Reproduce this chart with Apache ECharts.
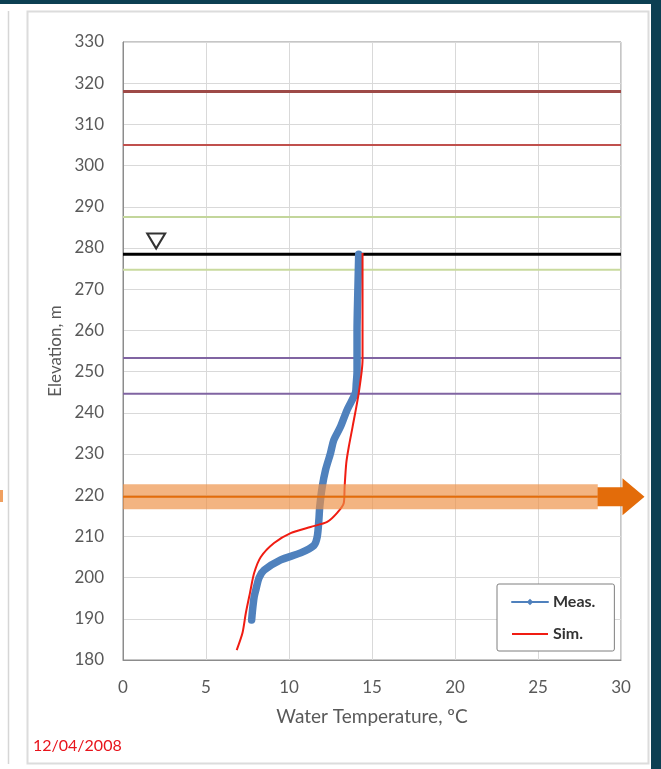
<!DOCTYPE html>
<html>
<head>
<meta charset="utf-8">
<script src="https://cdn.jsdelivr.net/npm/echarts@6/dist/echarts.min.js"></script>
<style>
html,body{margin:0;padding:0;background:#fff;}
#c{width:661px;height:769px;}
</style>
</head>
<body>
<div id="c"></div>
<script>
// ---- data ----
var xTicks = [0, 5, 10, 15, 20, 25, 30];
var yTicks = [180, 190, 200, 210, 220, 230, 240, 250, 260, 270, 280, 290, 300, 310, 320, 330];

var measTemp = [14.2, 14.15, 14.1, 14.1, 14.05, 14.0, 13.5, 13.1, 12.7, 12.5, 12.2, 12.0, 11.85, 11.8, 11.7, 11.5, 10.7, 9.5, 8.5, 8.2, 8.0, 7.9, 7.8, 7.75];
var measElev = [278.5, 270, 260, 250, 247, 244.8, 240.7, 236.6, 233.4, 230.2, 226.1, 222, 217.1, 214, 209.9, 207.8, 206, 204.3, 201.8, 200, 197, 195.3, 192, 189.7];

var simTemp = [14.43, 14.43, 14.43, 14.2, 13.83, 13.6, 13.45, 13.35, 13.3, 12.9, 12.3, 11.3, 10.1, 9.1, 8.3, 7.9, 7.65, 7.4, 7.2, 6.85];
var simElev = [278.8, 265, 252.8, 244.8, 236.6, 231.7, 227.8, 222, 218.1, 215.7, 213.5, 212.3, 210.8, 208.4, 205, 201.1, 196.3, 191.4, 186.6, 182.4];

var levelElev = [318, 305, 287.5, 278.5, 274.7, 253.3, 244.6];
var levelNames = ['L1', 'L2', 'L3', 'WSE', 'L4', 'L5', 'L6'];

var intakeElev = [219.6];
var intakeTemp = [0, 28.6, 30];

var surfaceMark = [2, 281.7];

var seriesNames = ['Meas.', 'Sim.'];
var dateText = '12/04/2008';

// ---- styles ----
var levelColors = ['#9e4a47', '#c0504d', '#c3d69b', '#000000', '#c9da9e', '#8064a2', '#8064a2'];
var levelWidths = [3, 2, 2, 3, 2, 2, 2];
var FONT = 'Lato';

function zip(a, b) { return a.map(function (v, i) { return [v, b[i]]; }); }

var series = [];
levelElev.forEach(function (e, i) {
  series.push({
    name: levelNames[i], type: 'line', silent: true, symbol: 'none', z: 2,
    data: [[xTicks[0], e], [xTicks[xTicks.length - 1], e]],
    lineStyle: { color: levelColors[i], width: levelWidths[i] }
  });
});
series.push({
  name: seriesNames[0], type: 'line', data: zip(measTemp, measElev),
  symbol: 'diamond', symbolSize: 7, showSymbol: false, smooth: 0.25, z: 3,
  itemStyle: { color: '#4f81bd' },
  lineStyle: { color: '#4f81bd', width: 7.5, cap: 'round', join: 'round' }
});
series.push({
  name: seriesNames[1], type: 'line', data: zip(simTemp, simElev),
  symbol: 'none', smooth: 0.25, z: 4,
  itemStyle: { color: '#ff1a10' },
  lineStyle: { color: '#f01c12', width: 2 }
});
series.push({
  name: 'band', type: 'line', silent: true, symbol: 'none', z: 5,
  data: [[intakeTemp[0], intakeElev[0]], [intakeTemp[1], intakeElev[0]]],
  lineStyle: { color: 'rgba(238,145,70,0.68)', width: 25, cap: 'butt' }
});
series.push({
  name: 'bandCenter', type: 'line', silent: true, symbol: 'none', z: 6,
  data: [[intakeTemp[0], intakeElev[0]], [intakeTemp[1], intakeElev[0]]],
  lineStyle: { color: '#e36c0a', width: 2 }
});
series.push({
  name: 'arrow', type: 'scatter', silent: true, clip: false, z: 7,
  data: [[intakeTemp[2], intakeElev[0]]],
  symbol: 'path://M0,9L25,9L25,0L47,18.5L25,37L25,28L0,28Z',
  symbolSize: [47, 37],
  itemStyle: { color: '#e36c0a', opacity: 1 }
});
series.push({
  name: 'surface', type: 'scatter', silent: true, clip: false, z: 7,
  data: [surfaceMark],
  symbol: 'triangle', symbolRotate: 180, symbolSize: [18, 15],
  itemStyle: { color: '#ffffff', borderColor: '#000000', borderWidth: 2 }
});

var chart = echarts.init(document.getElementById('c'), null, { renderer: 'canvas' });
chart.setOption({
  animation: false,
  backgroundColor: '#ffffff',
  textStyle: { fontFamily: FONT },
  grid: { left: 123, right: 40, top: 42, bottom: 109, show: true, borderColor: '#8c8c8c', borderWidth: 1 },
  xAxis: {
    type: 'value', min: xTicks[0], max: xTicks[xTicks.length - 1], interval: 5,
    name: 'Water Temperature, \u00baC', nameLocation: 'middle', nameGap: 47,
    nameTextStyle: { fontFamily: FONT, fontSize: 19, color: '#595959' },
    axisLine: { show: true, lineStyle: { color: '#8c8c8c' } },
    axisTick: { show: false },
    axisLabel: { margin: 19, fontFamily: FONT, fontSize: 17, color: '#595959' },
    splitLine: { show: true, lineStyle: { color: '#d9d9d9', width: 1 } }
  },
  yAxis: {
    type: 'value', min: yTicks[0], max: yTicks[yTicks.length - 1], interval: 10,
    name: 'Elevation, m', nameLocation: 'middle', nameGap: 56, nameRotate: 90,
    nameTextStyle: { fontFamily: FONT, fontSize: 17, color: '#595959' },
    axisLine: { show: true, lineStyle: { color: '#8c8c8c' } },
    axisTick: { show: false },
    axisLabel: { margin: 19, fontFamily: FONT, fontSize: 17, color: '#595959' },
    splitLine: { show: true, lineStyle: { color: '#d9d9d9', width: 1 } }
  },
  legend: {
    orient: 'vertical', left: 497, top: 584,
    data: [
      { name: seriesNames[0], lineStyle: { width: 2 }, itemStyle: { color: '#4f81bd' } },
      { name: seriesNames[1], lineStyle: { width: 2, color: '#f01c12' }, itemStyle: { opacity: 0, color: 'rgba(0,0,0,0)', borderWidth: 0 } }
    ],
    itemWidth: 36, itemHeight: 8, itemGap: 14,
    padding: [9, 19, 8, 14],
    borderColor: '#7f7f7f', borderWidth: 1, borderRadius: 2,
    backgroundColor: '#ffffff',
    textStyle: { fontFamily: FONT, fontSize: 16, fontWeight: 'bold', color: '#333333', lineHeight: 18 }
  },
  graphic: [
    { type: 'rect', shape: { x: 0, y: 0, width: 661, height: 4 }, style: { fill: '#0c3f52' }, silent: true },
    { type: 'rect', shape: { x: 651, y: 0, width: 10, height: 769 }, style: { fill: '#0c3f52' }, silent: true },
    { type: 'rect', shape: { x: 27.5, y: 11.5, width: 621, height: 752 }, style: { fill: null, stroke: '#dcdcdc', lineWidth: 2 }, silent: true, z: -1 },
    { type: 'line', shape: { x1: 8.5, y1: 11, x2: 8.5, y2: 764 }, style: { stroke: '#d6d6d6', lineWidth: 1.5 }, silent: true },
    { type: 'rect', shape: { x: 0, y: 490, width: 3, height: 12 }, style: { fill: '#f0a060' }, silent: true },
    { type: 'text', left: 33, top: 738, style: { text: dateText, fill: '#e8141c', font: '16px Lato' }, silent: true }
  ],
  series: series
});
</script>
</body>
</html>
